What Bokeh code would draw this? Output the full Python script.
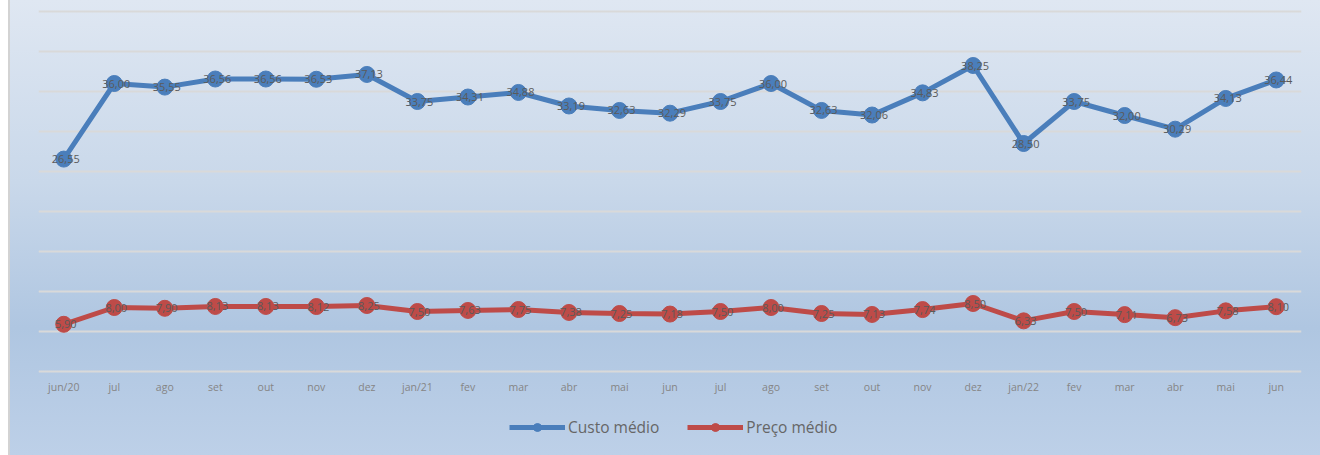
from bokeh.plotting import figure
from bokeh.models import ColumnDataSource, Range1d, FixedTicker, Legend, LegendItem
from bokeh.core.properties import value
from bokeh.embed import file_html
from bokeh.resources import INLINE

months = ["jun/20", "jul", "ago", "set", "out", "nov", "dez", "jan/21", "fev", "mar", "abr", "mai",
          "jun", "jul", "ago", "set", "out", "nov", "dez", "jan/22", "fev", "mar", "abr", "mai", "jun"]
custo = [26.55, 36.00, 35.55, 36.56, 36.56, 36.53, 37.13, 33.75, 34.31, 34.88, 33.19, 32.63,
         32.29, 33.75, 36.00, 32.63, 32.06, 34.83, 38.25, 28.50, 33.75, 32.00, 30.29, 34.13, 36.44]
preco = [5.90, 8.00, 7.90, 8.13, 8.13, 8.12, 8.25, 7.50, 7.63, 7.75, 7.38, 7.25,
         7.18, 7.50, 8.00, 7.25, 7.13, 7.74, 8.50, 6.33, 7.50, 7.11, 6.73, 7.58, 8.10]
y_ticks = [0, 5, 10, 15, 20, 25, 30, 35, 40, 45]

xs = list(range(len(months)))
fmt = lambda v: f"{v:.2f}".replace(".", ",")
src_c = ColumnDataSource(dict(x=xs, y=custo, t=[fmt(v) for v in custo]))
src_p = ColumnDataSource(dict(x=xs, y=preco, t=[fmt(v) for v in preco]))

W, H = 1312, 455
p = figure(width=W, height=H, output_backend="svg", toolbar_location=None,
           x_range=Range1d(-0.5, len(months) - 0.5), y_range=Range1d(-10.5, 45.5),
           min_border_left=30, min_border_right=19, min_border_top=7, min_border_bottom=0)
p.background_fill_alpha = 0
p.border_fill_alpha = 0
p.outline_line_color = None
p.styles = {"margin-left": "8px",
            "background": "linear-gradient(to bottom, #dfe7f2 0%, #c9d8ea 40%, #afc6e1 72%, #bdd0e8 100%)",
            "box-shadow": "inset 2px 0 0 #d3d3d3"}

blue = "#4a7ebb"
red = "#be4b48"

lc = p.line("x", "y", source=src_c, line_color=blue, line_width=5)
sc = p.scatter("x", "y", source=src_c, size=16, fill_color=blue, line_color=blue)
lp = p.line("x", "y", source=src_p, line_color=red, line_width=5)
sp = p.scatter("x", "y", source=src_p, size=16, fill_color=red, line_color=red)

for s in (src_c, src_p):
    p.text("x", "y", text="t", source=s, text_align="center", text_baseline="middle",
           text_font=value("Open Sans"), text_font_size="11px", text_color="#5a5a5a", x_offset=2)

p.xaxis.fixed_location = 0
p.xaxis.ticker = FixedTicker(ticks=xs)
p.xaxis.major_label_overrides = {i: m for i, m in enumerate(months)}
p.xaxis.axis_line_color = None
p.xaxis.major_tick_line_color = None
p.xaxis.minor_tick_line_color = None
p.xaxis.major_label_text_font = "Open Sans"
p.xaxis.major_label_text_font_size = "10.5px"
p.xaxis.major_label_text_color = "#858585"
p.xaxis.major_label_standoff = 2

p.yaxis.visible = False
p.xgrid.grid_line_color = None
p.ygrid.ticker = FixedTicker(ticks=y_ticks)
p.ygrid.grid_line_color = "#d9d9d9"
p.ygrid.grid_line_width = 2

legend = Legend(items=[LegendItem(label="Custo médio", renderers=[lc, sc]),
                       LegendItem(label="Preço médio", renderers=[lp, sp])],
                location=(471, 17), orientation="horizontal",
                background_fill_alpha=0, border_line_color=None,
                label_text_font="Open Sans", label_text_font_size="15.5px", label_text_color="#666666",
                glyph_width=56, glyph_height=20, label_height=20, label_standoff=3, spacing=28,
                padding=0, margin=0)
p.add_layout(legend, "center")

open("out.html", "w").write(file_html(p, INLINE))
